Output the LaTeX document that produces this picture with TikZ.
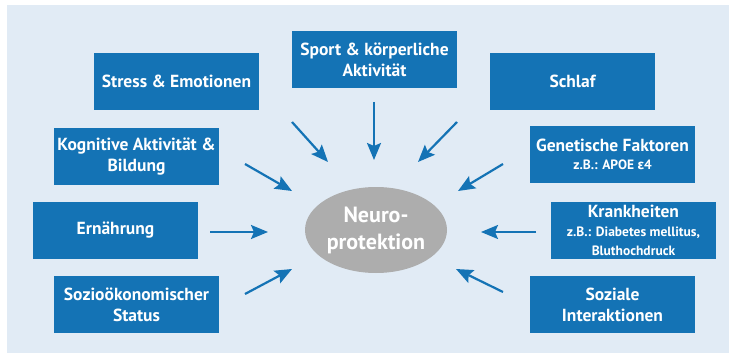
\documentclass[tikz,border=0pt]{standalone}
\usepackage{fontspec}
\setmainfont{PT Sans}
\newfontfamily\grkfont{Fira Sans}
\usetikzlibrary{arrows.meta,shapes.geometric}
\definecolor{boxblue}{HTML}{1473B5}
\definecolor{bgblue}{HTML}{E1EBF5}
\definecolor{ellgray}{HTML}{ADADAD}
\newcommand{\subline}[1]{{\fontsize{13.5}{19}\selectfont #1}}
\begin{document}
\begin{tikzpicture}[x=1pt,y=-1pt,
  factor/.style={fill=boxblue,text=white,minimum width=165pt,minimum height=57pt,
    inner sep=0pt,align=center,font=\bfseries\fontsize{17.5}{21}\selectfont},
  arr/.style={draw=boxblue,line width=2.2pt,-{Stealth[length=17pt,width=14pt,inset=3pt]}}]
   \useasboundingbox (0,0) rectangle (729,353);
   \fill[bgblue] (7,5) rectangle (729,353);

   % the factors
   \node[factor] (stress) at (176.5,81.5) {Stress \& Emotionen};
   \node[factor] (sport) at (374.5,59.5) {Sport \& körperliche\\Aktivität};
   \node[factor] (schlaf) at (572.5,81.5) {Schlaf};
   \node[factor] (kogn) at (136.5,156.5) {Kognitive Aktivität \&\\Bildung};
   \node[factor] (gen) at (612.5,154.5) {Genetische Faktoren\\[-3pt]
     \subline{z.B.: APOE {\grkfont ε}4}};
   \node[factor] (ern) at (115.5,230.5) {\raisebox{5pt}{Ernährung}};
   \node[factor] (krank) at (633.5,230.5) {Krankheiten\\[-2pt]
     \subline{z.B.: Diabetes mellitus,}\\[-2pt]\subline{Bluthochdruck}};
   \node[factor] (sozio) at (136.5,304.5) {Sozioökonomischer\\Status};
   \node[factor] (sozial) at (612.5,304.5) {Soziale\\Interaktionen};

   % the centre
   \node[ellipse,fill=ellgray,text=white,minimum width=142pt,minimum height=86pt,
     inner sep=0pt,align=center,font=\bfseries\fontsize{22}{27}\selectfont]
     (neuro) at (376,230) {Neuro-\\protektion};

   % arrows towards the centre
   \coordinate (sport-a) at (374,102);  \coordinate (sport-b) at (374,160);
   \coordinate (stress-a) at (292,122); \coordinate (stress-b) at (328,162);
   \coordinate (schlaf-a) at (457,122); \coordinate (schlaf-b) at (418,162);
   \coordinate (kogn-a) at (245,164);   \coordinate (kogn-b) at (292,191);
   \coordinate (gen-a) at (503,164);    \coordinate (gen-b) at (458,191);
   \coordinate (ern-a) at (210,232);    \coordinate (ern-b) at (268,232);
   \coordinate (krank-a) at (536,232);  \coordinate (krank-b) at (481,232);
   \coordinate (sozio-a) at (245,294);  \coordinate (sozio-b) at (292,269);
   \coordinate (sozial-a) at (503,292); \coordinate (sozial-b) at (456,269);

   \draw[arr] (sport-a) -- (sport-b);
   \draw[arr] (stress-a) -- (stress-b);
   \draw[arr] (schlaf-a) -- (schlaf-b);
   \draw[arr] (kogn-a) -- (kogn-b);
   \draw[arr] (gen-a) -- (gen-b);
   \draw[arr] (ern-a) -- (ern-b);
   \draw[arr] (krank-a) -- (krank-b);
   \draw[arr] (sozio-a) -- (sozio-b);
   \draw[arr] (sozial-a) -- (sozial-b);
 \end{tikzpicture}
\end{document}
